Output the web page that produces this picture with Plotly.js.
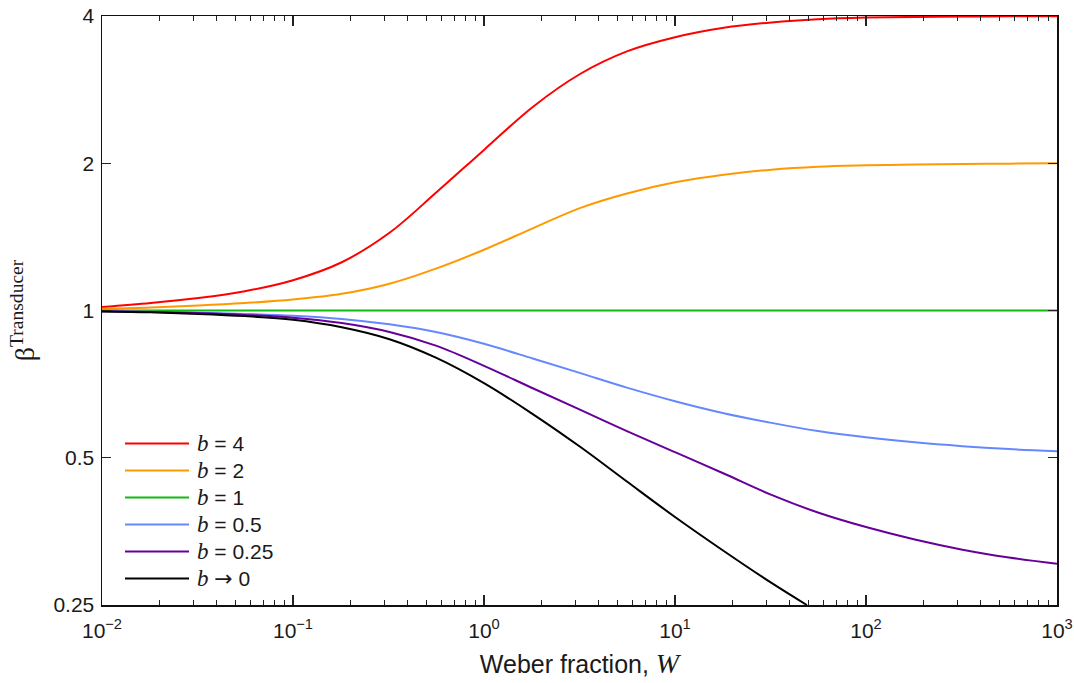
<!DOCTYPE html>
<html>
<head>
<meta charset="utf-8">
<script src="https://cdn.plot.ly/plotly-3.0.1.min.js"></script>
<style>
  html, body { margin: 0; padding: 0; background: #fff; }
  #chart { width: 1074px; height: 683px; }
</style>
</head>
<body>
<div id="chart"></div>
<script>
// Weber fraction W, quarter-decade samples
const weber = [0.01, 0.018, 0.032, 0.056, 0.1, 0.18, 0.32, 0.56, 1, 1.8, 3.2, 5.6, 10,
               18, 32, 56, 100, 180, 320, 560, 1000];

// Transducer exponent for each value of b
const betaB4   = [1.0166, 1.0359, 1.0605, 1.0950, 1.1532, 1.2551, 1.4417, 1.7402, 2.1299, 2.6073, 3.0478,
                  3.3857, 3.6194, 3.7842, 3.8814, 3.9404, 3.970, 3.983, 3.9906, 3.9945, 3.997];
const betaB2   = [1.0085, 1.0147, 1.0238, 1.0359, 1.0531, 1.0817, 1.1343, 1.2178, 1.3311, 1.4725, 1.6214,
                  1.7352, 1.8290, 1.8955, 1.9408, 1.9673, 1.9802, 1.9888, 1.9935, 1.9963, 1.999];
const betaB1   = [1, 1, 1, 1, 1, 1, 1, 1, 1, 1, 1, 1, 1, 1, 1, 1, 1, 1, 1, 1, 1];
const betaB05  = [0.9972, 0.9944, 0.9897, 0.9841, 0.9758, 0.9613, 0.9371, 0.9035, 0.8548, 0.798, 0.7446,
                  0.6956, 0.6525, 0.6167, 0.5892, 0.5669, 0.5504, 0.5376, 0.5280, 0.5208, 0.5155];
const betaB025 = [0.9967, 0.9934, 0.9879, 0.9795, 0.9667, 0.9425, 0.9038, 0.8475, 0.7707, 0.6936, 0.6263,
                  0.5669, 0.5133, 0.4642, 0.4198, 0.3864, 0.3608, 0.3403, 0.3244, 0.3127, 0.3036];
// b -> 0 falls out of the plotted range just below W = 50
const weberB0  = [0.01, 0.018, 0.032, 0.056, 0.1, 0.18, 0.32, 0.56, 1, 1.8, 3.2, 5.6, 10, 18, 32, 49];
const betaB0   = [0.9958, 0.9916, 0.9841, 0.9740, 0.9577, 0.9245, 0.8737, 0.8010, 0.7104, 0.6141, 0.5258,
                  0.4470, 0.3783, 0.3224, 0.2774, 0.25];

const seriesX      = [weber, weber, weber, weber, weber, weberB0];
const seriesValues = [betaB4, betaB2, betaB1, betaB05, betaB025, betaB0];
const seriesNames  = ['b = 4', 'b = 2', 'b = 1', 'b = 0.5', 'b = 0.25', 'b \u2192 0'];
const seriesColors = ['#ff0000', '#ff9900', '#11bb11', '#6688ff', '#660099', '#000000'];

// axis ticks
const xTickVals = [0.01, 0.1, 1, 10, 100, 1000];
const xTickText = ['10<sup>\u22122</sup>', '10<sup>\u22121</sup>', '10<sup>0</sup>', '10<sup>1</sup>', '10<sup>2</sup>', '10<sup>3</sup>'];
const yTickVals = [0.25, 0.5, 1, 2, 4];
const yTickText = ['0.25', '0.5', '1', '2', '4'];

// minor ticks at 2..9 within each decade
const xMinorVals = [];
for (let d = -2; d < 3; d++) {
  for (let m = 2; m <= 9; m++) xMinorVals.push(m * Math.pow(10, d));
}

const SERIF = 'Liberation Serif, Times New Roman, serif';
const SANS = 'Liberation Sans, Arial, Helvetica, sans-serif';
const INK = '#1a1a1a';

const traces = seriesValues.map((vals, i) => ({
  type: 'scatter',
  mode: 'lines',
  x: seriesX[i],
  y: vals,
  name: seriesNames[i],
  line: { color: seriesColors[i], width: 2, shape: 'spline', smoothing: 1 },
  hoverinfo: 'x+y+name'
}));

// legend label: italic serif "b", the rest upright sans
function legendText(name) {
  const rest = name.slice(1);
  const styled = rest.replace('\u2192', '<span style="font-family:DejaVu Sans;font-size:22px">\u2192</span>');
  return '<span style="font-family:' + SERIF + ';font-style:italic;font-size:23px">b</span>' + styled;
}

// legend drawn as paper-space line samples with labels
const plotTop = 16, plotH = 589, plotL = 102, plotW = 955;
const legendShapes = [];
const legendLabels = [];
seriesNames.forEach((name, i) => {
  const yPx = 443.5 + 27 * i;
  const yp = 1 - (yPx - plotTop) / plotH;
  legendShapes.push({
    type: 'line', xref: 'paper', yref: 'paper',
    x0: (125 - plotL) / plotW, x1: (189 - plotL) / plotW, y0: yp, y1: yp,
    line: { color: seriesColors[i], width: 2 }
  });
  legendLabels.push({
    xref: 'paper', yref: 'paper', x: (195 - plotL) / plotW, y: yp,
    xanchor: 'left', yanchor: 'middle', showarrow: false,
    text: legendText(name),
    font: { family: SANS, size: 21, color: INK }
  });
});

const layout = {
  width: 1074,
  height: 683,
  margin: { l: 102, r: 17, t: 16, b: 78, pad: 0 },
  paper_bgcolor: '#ffffff',
  plot_bgcolor: '#ffffff',
  showlegend: false,
  font: { family: SANS, size: 21, color: INK },
  xaxis: {
    type: 'log',
    range: [-2, 3],
    tickmode: 'array',
    tickvals: xTickVals,
    ticktext: xTickText,
    ticks: 'inside',
    ticklen: 10,
    tickwidth: 1.3,
    tickcolor: '#222',
    ticklabelstandoff: 6,
    showline: true,
    linecolor: '#111',
    linewidth: 1.5,
    mirror: 'allticks',
    showgrid: false,
    zeroline: false,
    minor: { tickmode: 'array', tickvals: xMinorVals, ticks: 'inside', ticklen: 5, tickwidth: 1, tickcolor: '#222', showgrid: false },
    title: {
      text: 'Weber fraction, <span style="font-family:' + SERIF + ';font-style:italic;font-size:28px">W</span>',
      font: { family: SANS, size: 25, color: INK },
      standoff: 15
    }
  },
  yaxis: {
    type: 'log',
    range: [Math.log10(0.25), Math.log10(4)],
    tickmode: 'array',
    tickvals: yTickVals,
    ticktext: yTickText,
    ticks: 'inside',
    ticklen: 9,
    tickwidth: 1.3,
    tickcolor: '#222',
    ticklabelstandoff: 2,
    showline: true,
    linecolor: '#111',
    linewidth: 1.5,
    mirror: 'allticks',
    showgrid: false,
    zeroline: false,
    title: {
      text: '\u03b2<sup>Transducer</sup>',
      font: { family: SERIF, size: 28, color: INK },
      standoff: 10
    }
  },
  shapes: legendShapes,
  annotations: legendLabels
};

Plotly.newPlot('chart', traces, layout, { displayModeBar: false, staticPlot: true });
</script>
</body>
</html>
